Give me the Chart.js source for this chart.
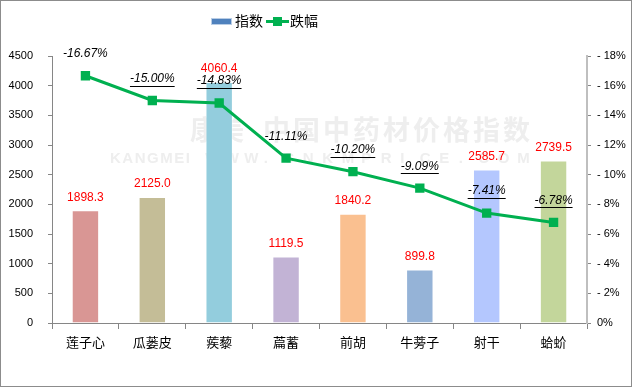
<!DOCTYPE html>
<html>
<head>
<meta charset="utf-8">
<script src="https://cdn.jsdelivr.net/npm/chart.js@4/dist/chart.umd.min.js"></script>
<style>
html,body{margin:0;padding:0;background:#fff;}
canvas{display:block;}
</style>
</head>
<body>
<canvas id="c" width="633" height="388"></canvas>
<script>
const categories = ['莲子心', '瓜蒌皮', '蒺藜', '萹蓄', '前胡', '牛蒡子', '射干', '蛤蚧'];
const indexValues = [1898.3, 2125.0, 4060.4, 1119.5, 1840.2, 899.8, 2585.7, 2739.5];
const changeValues = [-16.67, -15.00, -14.83, -11.11, -10.20, -9.09, -7.41, -6.78];
const barColors = ['#D99694', '#C4BD97', '#93CDDD', '#C2B3D5', '#FAC090', '#95B3D7', '#B4C7FE', '#C3D69B'];
const underlinedLabels = [false, true, true, false, true, true, true, true];
const leftTicks = [0, 500, 1000, 1500, 2000, 2500, 3000, 3500, 4000, 4500];
const legendNames = ['指数', '跌幅'];

const AXIS = '#868686';
const LINE = '#00B050';

const frame = {
  id: 'frame',
  beforeDraw(chart) {
    const ctx = chart.ctx;
    ctx.save();
    ctx.fillStyle = '#fff';
    ctx.fillRect(0, 0, chart.width, chart.height);
    // watermark
    ctx.fillStyle = '#EEEEEE';
    ctx.textBaseline = 'middle';
    ctx.textAlign = 'left';
    ctx.font = 'bold 27px "Noto Sans CJK SC"';
    ctx.fillText('康美', 190, 130);
    const cn = '中国中药材价格指数';
    for (let i = 0; i < cn.length; i++) ctx.fillText(cn[i], 263 + i * 30, 130);
    ctx.font = 'bold 15px "Liberation Sans"';
    const head = 'KANGMEI';
    let x = 110;
    for (let i = 0; i < head.length; i++) {
      ctx.fillText(head[i], x, 159);
      x += ctx.measureText(head[i]).width + 1.5;
    }
    x += 14;
    const tail = 'WWW.CNKMPRICE.COM';
    for (let i = 0; i < tail.length; i++) {
      ctx.fillText(tail[i], x, 159);
      x += 19.5;
    }
    ctx.restore();
  },
  afterDraw(chart) {
    const ctx = chart.ctx;
    ctx.save();
    // outer frame
    ctx.strokeStyle = '#8C8C8C';
    ctx.lineWidth = 1;
    ctx.strokeRect(0.5, 0.5, chart.width - 2, chart.height - 2);
    // legend
    ctx.fillStyle = '#4F81BD';
    ctx.fillRect(211, 18, 21, 7);
    ctx.strokeStyle = '#B9CDE5';
    ctx.strokeRect(211.5, 18.5, 20, 6);
    ctx.font = '14px "Noto Sans CJK SC"';
    ctx.fillStyle = '#000';
    ctx.textBaseline = 'middle';
    ctx.textAlign = 'left';
    ctx.fillText(legendNames[0], 235, 21);
    ctx.strokeStyle = LINE;
    ctx.lineWidth = 3;
    ctx.beginPath();
    ctx.moveTo(266, 21.5);
    ctx.lineTo(289, 21.5);
    ctx.stroke();
    ctx.fillStyle = LINE;
    ctx.fillRect(273, 17, 9, 9);
    ctx.fillStyle = '#000';
    ctx.fillText(legendNames[1], 290, 21);
    ctx.restore();
  },
  afterDatasetsDraw(chart) {
    const ctx = chart.ctx;
    ctx.save();
    ctx.textAlign = 'center';
    ctx.textBaseline = 'middle';
    // bar value labels
    const barMeta = chart.getDatasetMeta(0);
    ctx.font = '12px "Liberation Sans"';
    ctx.fillStyle = '#FF0000';
    barMeta.data.forEach((el, i) => {
      ctx.fillText(indexValues[i].toFixed(1), el.x, el.y - 13);
    });
    // percent labels
    const lineMeta = chart.getDatasetMeta(1);
    ctx.font = 'italic 12px "Liberation Sans"';
    ctx.fillStyle = '#000';
    ctx.strokeStyle = '#000';
    ctx.lineWidth = 1;
    lineMeta.data.forEach((el, i) => {
      const txt = changeValues[i].toFixed(2) + '%';
      const y = el.y - 22;
      ctx.fillText(txt, el.x, y);
      if (underlinedLabels[i]) {
        const w = ctx.measureText(txt).width;
        ctx.beginPath();
        ctx.moveTo(el.x - w / 2, Math.round(y + 7) + 0.5);
        ctx.lineTo(el.x + w / 2, Math.round(y + 7) + 0.5);
        ctx.stroke();
      }
    });
    ctx.restore();
  }
};

new Chart(document.getElementById('c'), {
  data: {
    labels: categories,
    datasets: [
      {
        type: 'bar',
        label: legendNames[0],
        data: indexValues,
        backgroundColor: barColors,
        borderColor: 'rgba(255,255,255,0.45)',
        borderWidth: 1,
        barPercentage: 0.41,
        categoryPercentage: 1,
        yAxisID: 'y',
        order: 1
      },
      {
        type: 'line',
        label: legendNames[1],
        data: changeValues,
        borderColor: LINE,
        backgroundColor: LINE,
        borderWidth: 3,
        pointStyle: 'rect',
        pointRadius: 6.6,
        pointBorderWidth: 0,
        tension: 0,
        yAxisID: 'y1',
        order: 0
      }
    ]
  },
  options: {
    responsive: false,
    animation: false,
    layout: { padding: { top: 56, left: 0, right: 0, bottom: 0 } },
    plugins: {
      legend: { display: false },
      tooltip: { enabled: false }
    },
    scales: {
      x: {
        offset: true,
        grid: { offset: true, drawOnChartArea: false, drawTicks: true, tickLength: 6, color: AXIS },
        border: { display: true, color: AXIS, width: 1 },
        ticks: { color: '#000', font: { family: '"Noto Sans CJK SC"', size: 13 }, padding: 5, maxRotation: 0 },
        afterFit(s) { s.height = 65; }
      },
      y: {
        position: 'left',
        min: 0,
        max: 4500,
        afterBuildTicks(s) { s.ticks = leftTicks.map(v => ({ value: v })); },
        grid: { drawOnChartArea: false, drawTicks: true, tickLength: 4, color: AXIS },
        border: { display: true, color: AXIS, width: 1 },
        ticks: { color: '#000', font: { family: '"Liberation Sans"', size: 11 }, padding: 15, callback: v => String(v) },
        afterFit(s) { s.width = 52; }
      },
      y1: {
        position: 'right',
        min: -18,
        max: 0,
        reverse: true,
        ticks: {
          stepSize: 2,
          color: '#000',
          font: { family: '"Liberation Sans"', size: 11 },
          padding: 6,
          callback: v => v === 0 ? '0%' : '- ' + Math.abs(v) + '%'
        },
        grid: { drawOnChartArea: false, drawTicks: true, tickLength: 4, color: AXIS },
        border: { display: true, color: '#BFBFBF', width: 2 },
        afterFit(s) { s.width = 46; }
      }
    }
  },
  plugins: [frame]
});
</script>
</body>
</html>
